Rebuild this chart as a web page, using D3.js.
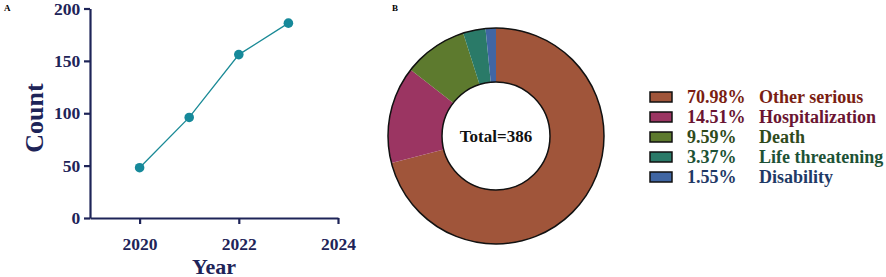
<!DOCTYPE html>
<html>
<head>
<meta charset="utf-8">
<script src="https://cdn.jsdelivr.net/npm/d3@7"></script>
<style>
  body { margin: 0; background: #fff; }
  svg { display: block; font-family: "Liberation Serif", "Times New Roman", serif; font-weight: bold; }
</style>
</head>
<body>
<svg id="chart" width="886" height="277"></svg>
<script>
// panel A: yearly counts
const years = [2020, 2021, 2022, 2023];
const counts = [48, 96, 156, 186];
const yearTicks = [2020, 2022, 2024];
const countTicks = [0, 50, 100, 150, 200];

// panel B: outcome shares
const outcomes = ["Other serious", "Hospitalization", "Death", "Life threatening", "Disability"];
const shares = [70.98, 14.51, 9.59, 3.37, 1.55];
const total = 386;

const sliceColors = ["#a0553a", "#9b3562", "#5d7a2e", "#2a7a68", "#4066a3"];
const textColors = ["#7a1e12", "#6a1532", "#2f4a1c", "#1d5236", "#1f3a66"];
const navy = "#1e2458";

const svg = d3.select("#chart");

// ---- A ----
svg.append("text").attr("x", 4).attr("y", 11).attr("font-size", 9).attr("fill", "#000").text("A");

const x = d3.scaleLinear().domain([2019, 2024]).range([90, 338]);
const y = d3.scaleLinear().domain([0, 200]).range([218, 8.5]);

const gx = svg.append("g").attr("transform", "translate(0,218)")
  .call(d3.axisBottom(x).tickValues(yearTicks).tickFormat(d3.format("d")).tickSize(6).tickSizeOuter(0));
const gy = svg.append("g").attr("transform", "translate(90,0)")
  .call(d3.axisLeft(y).tickValues(countTicks).tickSize(6).tickSizeOuter(0));

[gx, gy].forEach(g => {
  g.select(".domain").attr("stroke", navy).attr("stroke-width", 2.2);
  g.selectAll(".tick line").attr("stroke", navy).attr("stroke-width", 2.2);
  g.selectAll(".tick text").attr("fill", navy).attr("font-size", 17.5)
    .attr("font-family", "Liberation Serif").attr("font-weight", "bold");
});
gx.selectAll(".tick text").attr("dy", "1.3em");
gy.selectAll(".tick text").attr("dx", "-0.05em");

svg.append("text").attr("transform", "translate(43,118) rotate(-90)")
  .attr("text-anchor", "middle").attr("font-size", 26).attr("fill", navy).text("Count");
svg.append("text").attr("x", 214).attr("y", 274)
  .attr("text-anchor", "middle").attr("font-size", 22).attr("fill", navy).text("Year");

const pts = years.map((yr, i) => [yr, counts[i]]);
svg.append("path").datum(pts)
  .attr("fill", "none").attr("stroke", "#1a8a96").attr("stroke-width", 1.3)
  .attr("d", d3.line().x(d => x(d[0])).y(d => y(d[1])));
svg.append("g").selectAll("circle").data(pts).join("circle")
  .attr("cx", d => x(d[0])).attr("cy", d => y(d[1])).attr("r", 4.8)
  .attr("fill", "#16899a");

// ---- B ----
svg.append("text").attr("x", 392).attr("y", 11).attr("font-size", 9).attr("fill", "#000").text("B");

const cx = 496, cy = 136, rOut = 108, rIn = 54;
const pie = d3.pie().sort(null).value(d => d.v);
const arcs = pie(outcomes.map((o, i) => ({ o, v: shares[i], i })));
const donut = svg.append("g").attr("transform", `translate(${cx},${cy})`);
donut.selectAll("path").data(arcs).join("path")
  .attr("d", d3.arc().innerRadius(rIn).outerRadius(rOut))
  .attr("fill", d => sliceColors[d.data.i]);
donut.append("circle").attr("r", rOut).attr("fill", "none").attr("stroke", "#111").attr("stroke-width", 1.5);
donut.append("circle").attr("r", rIn).attr("fill", "none").attr("stroke", "#111").attr("stroke-width", 1.5);
donut.append("text").attr("text-anchor", "middle").attr("dy", "0.35em")
  .attr("font-size", 17).attr("fill", "#111").text(`Total=${total}`);

// legend
const leg = svg.append("g");
const rows = leg.selectAll("g").data(outcomes).join("g")
  .attr("transform", (d, i) => `translate(650,${97 + i * 20})`);
rows.append("rect").attr("x", 0).attr("y", -5).attr("width", 22).attr("height", 10)
  .attr("fill", (d, i) => sliceColors[i]).attr("stroke", "#111").attr("stroke-width", 1.5);
rows.append("text").attr("x", 37).attr("dy", "0.35em").attr("font-size", 18)
  .attr("fill", (d, i) => textColors[i]).text((d, i) => d3.format(".2f")(shares[i]) + "%");
rows.append("text").attr("x", 109).attr("dy", "0.35em").attr("font-size", 18)
  .attr("fill", (d, i) => textColors[i]).text(d => d);
</script>
</body>
</html>
